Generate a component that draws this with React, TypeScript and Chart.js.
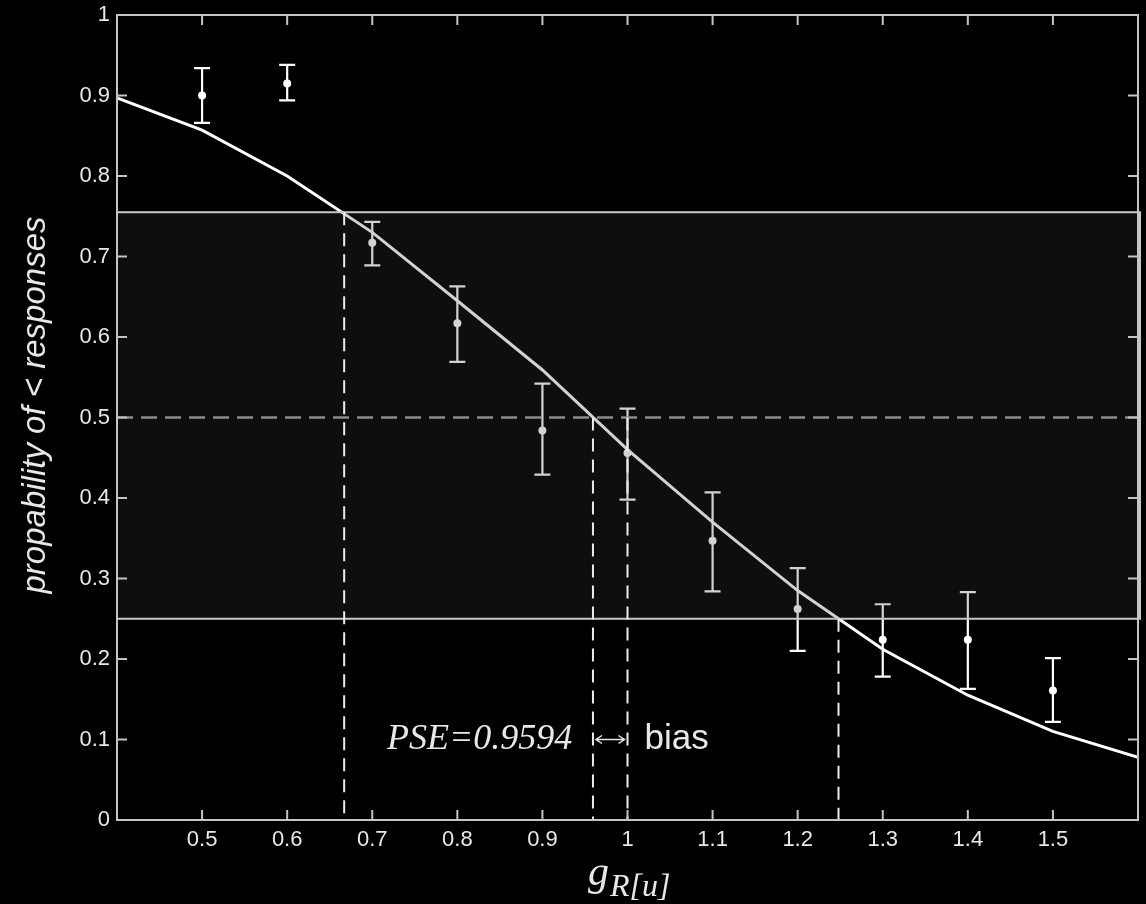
import React, { useEffect, useRef } from "react";
import { Chart, registerables } from "chart.js";

Chart.register(...registerables);

// ---- data ----
const xMin = 0.4;
const xMax = 1.6;
const yMin = 0;
const yMax = 1;
const xTickValues = [0.5, 0.6, 0.7, 0.8, 0.9, 1.0, 1.1, 1.2, 1.3, 1.4, 1.5];
const xTickLabels = ["0.5", "0.6", "0.7", "0.8", "0.9", "1", "1.1", "1.2", "1.3", "1.4", "1.5"];
const yTickValues = [0, 0.1, 0.2, 0.3, 0.4, 0.5, 0.6, 0.7, 0.8, 0.9, 1];
const yTickLabels = ["0", "0.1", "0.2", "0.3", "0.4", "0.5", "0.6", "0.7", "0.8", "0.9", "1"];

const stimulusLevels = [0.5, 0.6, 0.7, 0.8, 0.9, 1.0, 1.1, 1.2, 1.3, 1.4, 1.5];
const meanResponse = [0.9, 0.915, 0.717, 0.617, 0.484, 0.456, 0.347, 0.262, 0.224, 0.224, 0.161];
const errUpper = [0.934, 0.938, 0.743, 0.663, 0.542, 0.511, 0.407, 0.313, 0.268, 0.283, 0.201];
const errLower = [0.866, 0.894, 0.689, 0.569, 0.429, 0.398, 0.284, 0.21, 0.178, 0.163, 0.122];

const fitX = [0.4, 0.5, 0.6, 0.7, 0.8, 0.9, 1.0, 1.1, 1.2, 1.3, 1.4, 1.5, 1.6];
const fitY = [0.897, 0.857, 0.8, 0.73, 0.645, 0.559, 0.46, 0.37, 0.285, 0.212, 0.155, 0.11, 0.078];

const bandLow = 0.25;
const bandHigh = 0.755;
const lowerThresholdX = 0.667;
const pseX = 0.9594;
const referenceX = 1.0;
const upperThresholdX = 1.248;
const midLevel = 0.5;

const pseLabel = "PSE=0.9594";
const biasLabel = "bias";
const annotationY = 0.1;
const pseLabelX = 0.935;
const biasLabelX = 1.02;

const yTitle = "propability of < responses";

const AXIS_COLOR = "#c4c4c4";
const TEXT_COLOR = "#e8e8e8";

const decorPlugin = {
  id: "decor",
  beforeDraw(chart: any) {
    const { ctx, width, height } = chart;
    ctx.save();
    ctx.fillStyle = "#000";
    ctx.fillRect(0, 0, width, height);
    ctx.restore();
  },
  beforeDatasetsDraw(chart: any) {
    const { ctx } = chart;
    const xs = chart.scales.x;
    const ys = chart.scales.y;
    ctx.save();
    ctx.strokeStyle = "#ffffff";
    ctx.lineWidth = 2.2;
    for (let i = 0; i < stimulusLevels.length; i++) {
      const px = xs.getPixelForValue(stimulusLevels[i]);
      const pt = ys.getPixelForValue(errUpper[i]);
      const pb = ys.getPixelForValue(errLower[i]);
      ctx.beginPath();
      ctx.moveTo(px, pt);
      ctx.lineTo(px, pb);
      ctx.moveTo(px - 8, pt);
      ctx.lineTo(px + 8, pt);
      ctx.moveTo(px - 8, pb);
      ctx.lineTo(px + 8, pb);
      ctx.stroke();
    }
    ctx.restore();
  },
  afterDatasetsDraw(chart: any) {
    const { ctx, chartArea } = chart;
    const xs = chart.scales.x;
    const ys = chart.scales.y;
    const L = chartArea.left;
    const R = chartArea.right;
    const T = chartArea.top;
    const B = chartArea.bottom;

    // shaded band
    const bt = ys.getPixelForValue(bandHigh);
    const bb = ys.getPixelForValue(bandLow);
    ctx.save();
    ctx.fillStyle = "rgba(60,60,60,0.23)";
    ctx.fillRect(L, bt, R - L + 2, bb - bt);
    ctx.strokeStyle = "#c8c8c8";
    ctx.lineWidth = 2;
    ctx.strokeRect(L, bt, R - L + 2, bb - bt);
    ctx.restore();

    // horizontal dashed 0.5
    ctx.save();
    ctx.strokeStyle = "#8c8c8c";
    ctx.lineWidth = 2.5;
    ctx.setLineDash([16, 8]);
    const hy = ys.getPixelForValue(midLevel);
    ctx.beginPath();
    ctx.moveTo(L, hy);
    ctx.lineTo(R, hy);
    ctx.stroke();
    ctx.restore();

    // vertical dashed lines
    const verticals = [
      [lowerThresholdX, bandHigh],
      [pseX, midLevel],
      [referenceX, midLevel],
      [upperThresholdX, bandLow],
    ];
    ctx.save();
    ctx.strokeStyle = "#ececec";
    ctx.lineWidth = 2;
    ctx.setLineDash([13, 8]);
    for (const [vx, vy] of verticals) {
      const px = xs.getPixelForValue(vx);
      ctx.beginPath();
      ctx.moveTo(px, ys.getPixelForValue(vy));
      ctx.lineTo(px, B);
      ctx.stroke();
    }
    ctx.restore();

    // axes box with inward ticks
    ctx.save();
    ctx.strokeStyle = AXIS_COLOR;
    ctx.lineWidth = 2;
    ctx.strokeRect(L, T, R - L, B - T);
    ctx.beginPath();
    for (const v of xTickValues) {
      const px = xs.getPixelForValue(v);
      ctx.moveTo(px, B);
      ctx.lineTo(px, B - 10);
      ctx.moveTo(px, T);
      ctx.lineTo(px, T + 10);
    }
    for (const v of yTickValues) {
      const py = ys.getPixelForValue(v);
      ctx.moveTo(L, py);
      ctx.lineTo(L + 10, py);
      ctx.moveTo(R, py);
      ctx.lineTo(R - 10, py);
    }
    ctx.stroke();
    ctx.restore();

    // annotations
    const ay = ys.getPixelForValue(annotationY);
    ctx.save();
    ctx.fillStyle = TEXT_COLOR;
    ctx.textBaseline = "middle";
    ctx.font = "italic 36px 'Liberation Serif'";
    ctx.textAlign = "right";
    ctx.fillText(pseLabel, xs.getPixelForValue(pseLabelX), ay);
    ctx.font = "35px 'Liberation Sans'";
    ctx.textAlign = "left";
    ctx.fillText(biasLabel, xs.getPixelForValue(biasLabelX), ay);
    // double arrow
    const a1 = xs.getPixelForValue(pseX) + 3;
    const a2 = xs.getPixelForValue(referenceX) - 3;
    ctx.strokeStyle = TEXT_COLOR;
    ctx.lineWidth = 1.5;
    ctx.beginPath();
    ctx.moveTo(a1, ay);
    ctx.lineTo(a2, ay);
    ctx.moveTo(a1 + 6, ay - 4);
    ctx.lineTo(a1, ay);
    ctx.lineTo(a1 + 6, ay + 4);
    ctx.moveTo(a2 - 6, ay - 4);
    ctx.lineTo(a2, ay);
    ctx.lineTo(a2 - 6, ay + 4);
    ctx.stroke();
    ctx.restore();

    // axis titles
    ctx.save();
    ctx.fillStyle = TEXT_COLOR;
    ctx.textBaseline = "alphabetic";
    ctx.font = "italic 42px 'Liberation Serif'";
    ctx.textAlign = "left";
    const gx = 588;
    ctx.fillText("g", gx, 885);
    const gw = ctx.measureText("g").width;
    ctx.font = "italic 32px 'Liberation Serif'";
    ctx.fillText("R[u]", gx + gw + 1, 896);
    ctx.restore();

    ctx.save();
    ctx.fillStyle = TEXT_COLOR;
    ctx.font = "italic 33px 'Liberation Sans'";
    ctx.textAlign = "center";
    ctx.textBaseline = "alphabetic";
    ctx.translate(45, 405);
    ctx.rotate(-Math.PI / 2);
    ctx.fillText(yTitle, 0, 0);
    ctx.restore();
  },
};

export default function App() {
  const ref = useRef<HTMLCanvasElement | null>(null);
  useEffect(() => {
    if (!ref.current) return;
    const chart = new Chart(ref.current, {
      type: "line",
      data: {
        datasets: [
          {
            type: "line",
            label: "fit",
            data: fitX.map((x, i) => ({ x, y: fitY[i] })),
            borderColor: "#ffffff",
            borderWidth: 3,
            pointRadius: 0,
            tension: 0,
            fill: false,
          },
          {
            type: "scatter",
            label: "data",
            data: stimulusLevels.map((x, i) => ({ x, y: meanResponse[i] })),
            backgroundColor: "#ffffff",
            borderColor: "#ffffff",
            pointRadius: 4,
            borderWidth: 0,
          },
        ],
      },
      options: {
        animation: false,
        responsive: false,
        events: [],
        layout: { padding: { left: 0, right: 8, top: 15, bottom: 0 } },
        plugins: { legend: { display: false }, tooltip: { enabled: false } },
        scales: {
          x: {
            type: "linear",
            min: xMin,
            max: xMax,
            afterBuildTicks: (s: any) => {
              s.ticks = xTickValues.map((v) => ({ value: v }));
            },
            afterFit: (s: any) => {
              s.height = 84;
              s.paddingLeft = 0;
              s.paddingRight = 0;
            },
            grid: { display: false, drawTicks: false },
            border: { display: false },
            ticks: {
              color: TEXT_COLOR,
              font: { family: "'Liberation Sans'", size: 22 },
              padding: 7,
              maxRotation: 0,
              autoSkip: false,
              callback: (v: any) => {
                const i = xTickValues.findIndex((t) => Math.abs(t - v) < 1e-6);
                return i >= 0 ? xTickLabels[i] : "";
              },
            },
          },
          y: {
            type: "linear",
            min: yMin,
            max: yMax,
            afterBuildTicks: (s: any) => {
              s.ticks = yTickValues.map((v) => ({ value: v }));
            },
            afterFit: (s: any) => {
              s.width = 117;
              s.paddingTop = 0;
              s.paddingBottom = 0;
            },
            grid: { display: false, drawTicks: false },
            border: { display: false },
            ticks: {
              color: TEXT_COLOR,
              font: { family: "'Liberation Sans'", size: 22 },
              padding: 7,
              autoSkip: false,
              callback: (v: any) => {
                const i = yTickValues.findIndex((t) => Math.abs(t - v) < 1e-6);
                return i >= 0 ? yTickLabels[i] : "";
              },
            },
          },
        },
      },
      plugins: [decorPlugin],
    } as any);
    return () => chart.destroy();
  }, []);
  return (
    <div style={{ position: "fixed", left: 0, top: 0, width: 1146, height: 904, background: "#000" }}>
      <canvas ref={ref} width={1146} height={904} style={{ display: "block" }} />
    </div>
  );
}
